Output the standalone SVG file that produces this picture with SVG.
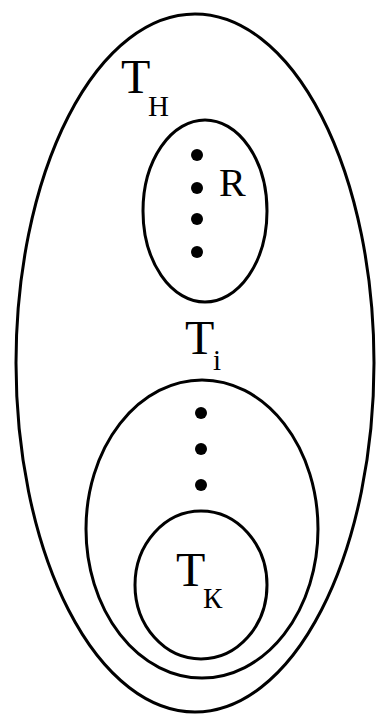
<svg xmlns="http://www.w3.org/2000/svg" width="378" height="716" viewBox="0 0 378 716">
<style>
.e{fill:none;stroke:#000;stroke-width:3}
.d{fill:#000}
.t{font-family:"Liberation Serif","Times New Roman",serif;fill:#000}
.m{font-size:48px}
.s{font-size:29px}
</style>
<rect width="378" height="716" fill="#fff"/>
<g id="outer">
<ellipse class="e" cx="195" cy="363" rx="179" ry="349"/>
<text class="t" x="121" y="93"><tspan class="m">T</tspan><tspan class="s" x="148" y="116">Н</tspan></text>
</g>
<g id="R">
<ellipse class="e" cx="205" cy="211" rx="62" ry="91"/>
<circle class="d" cx="197" cy="155" r="6"/>
<circle class="d" cx="197" cy="188" r="6"/>
<circle class="d" cx="197" cy="219" r="6"/>
<circle class="d" cx="197" cy="252" r="6"/>
<text class="t" x="219" y="196" font-size="40">R</text>
</g>
<g id="Ti">
<ellipse class="e" cx="202" cy="529" rx="116" ry="149"/>
<text class="t" x="185" y="354"><tspan class="m">T</tspan><tspan class="s" x="213" y="370">i</tspan></text>
<circle class="d" cx="201" cy="413" r="6"/>
<circle class="d" cx="201" cy="449" r="6"/>
<circle class="d" cx="201" cy="485" r="6"/>
</g>
<g id="Tk">
<ellipse class="e" cx="201" cy="585" rx="66" ry="74"/>
<text class="t" x="176" y="586"><tspan class="m">T</tspan><tspan class="s" x="203" y="608">К</tspan></text>
</g>
<g id="connectors"/>
</svg>
